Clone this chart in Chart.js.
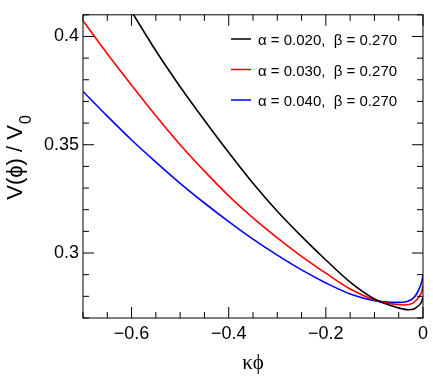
<!DOCTYPE html>
<html>
<head>
<meta charset="utf-8">
<script src="https://cdn.jsdelivr.net/npm/chart.js@4"></script>
<style>
  html, body { margin: 0; padding: 0; background: #fff; }
  #wrap { width: 433px; height: 391px; }
</style>
</head>
<body>
<div id="wrap"><canvas id="potential-chart" width="433" height="391"></canvas></div>
<script>
// kappa*phi values shared by all three curves
const phiValues = [-0.70, -0.65, -0.60, -0.55, -0.50, -0.45, -0.40, -0.35, -0.30, -0.25, -0.20,
                   -0.15, -0.10, -0.08, -0.06, -0.04, -0.03, -0.02, -0.013, -0.006, -0.002, 0];

// V(phi)/V0 (null = above the frame)
const alpha020 = [null, null, 0.4115, 0.3934, 0.3768, 0.3613, 0.3464, 0.3322, 0.3193, 0.3077, 0.2968,
                  0.2866, 0.2788, 0.2768, 0.2753, 0.2741, 0.2738, 0.2740, 0.2750, 0.2764, 0.2780, 0.2797];
const alpha030 = [0.4073, 0.3920, 0.3775, 0.3634, 0.3500, 0.3378, 0.3264, 0.3162, 0.3070, 0.2985, 0.2907,
                  0.2834, 0.2783, 0.2771, 0.2764, 0.2760, 0.2762, 0.2770, 0.2784, 0.2805, 0.2826, 0.2851];
const alpha040 = [0.3746, 0.3632, 0.3522, 0.3420, 0.3322, 0.3231, 0.3145, 0.3064, 0.2990, 0.2922, 0.2862,
                  0.2811, 0.2780, 0.2775, 0.2772, 0.2773, 0.2778, 0.2792, 0.2812, 0.2845, 0.2873, 0.2900];

const seriesLabels = ['\u03b1 = 0.020,  \u03b2 = 0.270', '\u03b1 = 0.030,  \u03b2 = 0.270', '\u03b1 = 0.040,  \u03b2 = 0.270'];
const seriesColors = ['#000000', '#ff0000', '#0000ff'];

const xMin = -0.7, xMax = 0, yMin = 0.27, yMax = 0.41;

function toPoints(ys) {
    return phiValues.map((x, i) => ({ x: x, y: ys[i] })).filter(p => p.y !== null);
}

function isMultiple(v, step) {
    const r = Math.abs(v / step - Math.round(v / step));
    return r < 1e-6;
}

// frame, inward ticks, legend and axis titles (ROOT style)
const rootStyle = {
    id: 'rootStyle',
    afterDraw(chart) {
        const ctx = chart.ctx;
        const area = chart.chartArea;
        const xs = chart.scales.x, ys = chart.scales.y;
        ctx.save();
        ctx.strokeStyle = '#000';
        ctx.lineWidth = 1;
        ctx.strokeRect(area.left, area.top, area.right - area.left, area.bottom - area.top);

        ctx.beginPath();
        xs.ticks.forEach(t => {
            const px = xs.getPixelForValue(t.value);
            const len = isMultiple(t.value, 0.2) ? 11 : 6;
            ctx.moveTo(px, area.bottom); ctx.lineTo(px, area.bottom - len);
            ctx.moveTo(px, area.top); ctx.lineTo(px, area.top + len);
        });
        ys.ticks.forEach(t => {
            const py = ys.getPixelForValue(t.value);
            const len = isMultiple(t.value, 0.05) ? 11 : 6;
            ctx.moveTo(area.left, py); ctx.lineTo(area.left + len, py);
            ctx.moveTo(area.right, py); ctx.lineTo(area.right - len, py);
        });
        ctx.stroke();

        // legend
        ctx.font = '15px "Liberation Sans", Arial, sans-serif';
        ctx.textBaseline = 'middle';
        ctx.textAlign = 'left';
        chart.data.datasets.forEach((ds, i) => {
            const y = 39 + i * 30.5;
            ctx.strokeStyle = ds.borderColor;
            ctx.lineWidth = 1.5;
            ctx.beginPath();
            ctx.moveTo(231, y); ctx.lineTo(251, y);
            ctx.stroke();
            ctx.fillStyle = '#000';
            ctx.fillText(ds.label, 258, y + 2);
        });

        // y title: V(phi) / V_0
        ctx.fillStyle = '#000';
        ctx.translate(22, 158);
        ctx.rotate(-Math.PI / 2);
        ctx.textBaseline = 'alphabetic';
        const main = 'V(\u03d5) / V';
        const sub = '0';
        ctx.font = '22px "Liberation Sans", Arial, sans-serif';
        const wMain = ctx.measureText(main).width;
        ctx.font = '16px "Liberation Sans", Arial, sans-serif';
        const wSub = ctx.measureText(sub).width;
        const start = -(wMain + wSub) / 2;
        ctx.font = '22px "Liberation Sans", Arial, sans-serif';
        ctx.fillText(main, start, 0);
        ctx.font = '16px "Liberation Sans", Arial, sans-serif';
        ctx.fillText(sub, start + wMain + 1, 9);
        ctx.restore();

        // x title
        ctx.save();
        ctx.fillStyle = '#000';
        ctx.font = '21px "Liberation Serif", "DejaVu Serif", serif';
        ctx.textAlign = 'center';
        ctx.textBaseline = 'alphabetic';
        ctx.fillText('\u03ba\u03d5', 253, 369);
        ctx.restore();
    }
};

const chart = new Chart(document.getElementById('potential-chart'), {
    type: 'line',
    data: {
        datasets: [alpha020, alpha030, alpha040].map((ys, i) => ({
            label: seriesLabels[i],
            data: toPoints(ys),
            borderColor: seriesColors[i],
            borderWidth: 1.6,
            pointRadius: 0,
            fill: false,
            cubicInterpolationMode: 'monotone'
        }))
    },
    options: {
        responsive: false,
        animation: false,
        layout: { padding: { top: 12, right: 10, left: 0, bottom: 0 } },
        plugins: { legend: { display: false }, tooltip: { enabled: false } },
        scales: {
            x: {
                type: 'linear',
                min: xMin, max: xMax,
                grid: { display: false, drawTicks: false },
                border: { display: false },
                ticks: {
                    stepSize: 0.05,
                    autoSkip: false,
                    maxRotation: 0,
                    padding: 5,
                    color: '#000',
                    font: { family: '"Liberation Sans", Arial, sans-serif', size: 18 },
                    callback: function(value) {
                        if (!isMultiple(value, 0.2)) return '';
                        const v = Math.round(value * 10) / 10;
                        if (v === 0) return '0';
                        return (v < 0 ? '\u2212' : '') + Math.abs(v).toFixed(1);
                    }
                },
                afterFit: function(scale) { scale.height = 73; }
            },
            y: {
                type: 'linear',
                min: yMin, max: yMax,
                grid: { display: false, drawTicks: false },
                border: { display: false },
                ticks: {
                    stepSize: 0.01,
                    autoSkip: false,
                    padding: 4,
                    color: '#000',
                    font: { family: '"Liberation Sans", Arial, sans-serif', size: 18 },
                    callback: function(value) {
                        if (!isMultiple(value, 0.05)) return '';
                        return String(Math.round(value * 100) / 100);
                    }
                },
                afterFit: function(scale) { scale.width = 83; }
            }
        }
    },
    plugins: [rootStyle]
});
</script>
</body>
</html>
